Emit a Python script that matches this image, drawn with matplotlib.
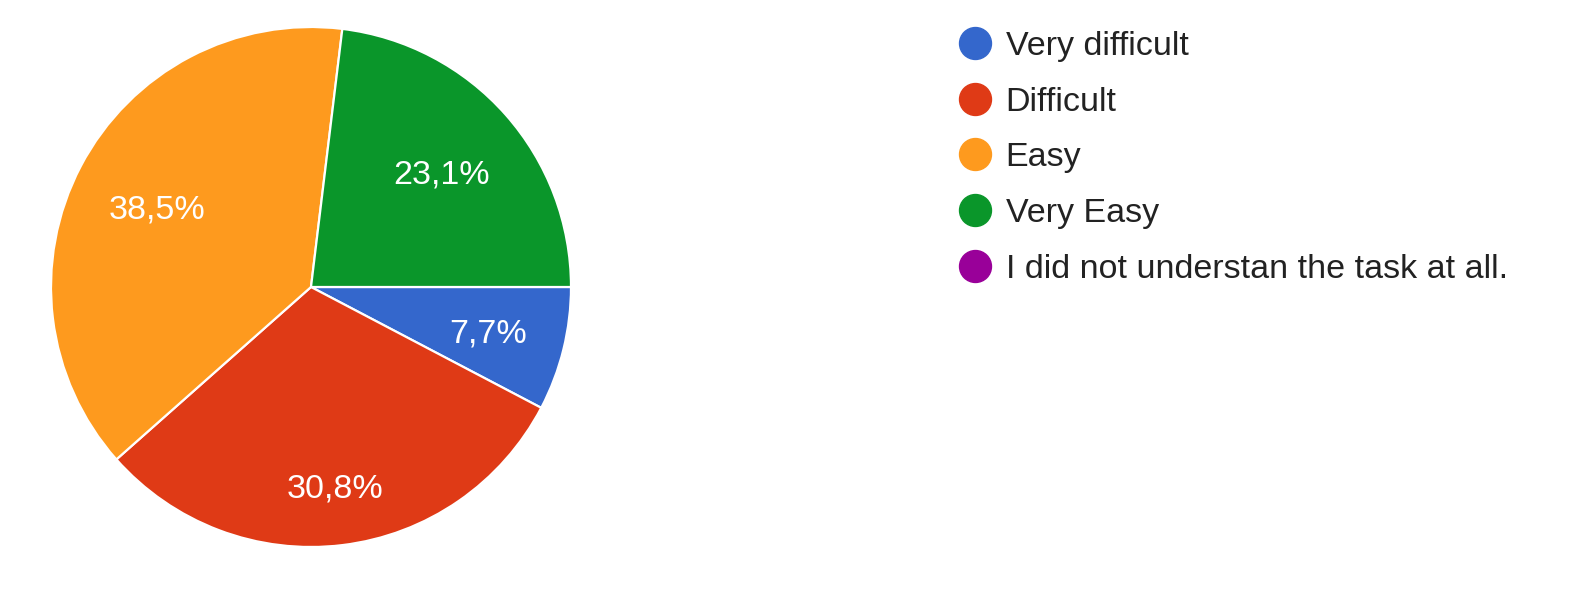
import numpy as np
import matplotlib
matplotlib.use("Agg")
import matplotlib.pyplot as plt
from matplotlib.lines import Line2D

plt.rcParams["font.family"] = ["Liberation Sans", "DejaVu Sans"]

#Survey answers, share in percent
labels = ["Very difficult", "Difficult", "Easy", "Very Easy",
          "I did not understan the task at all."]
shares = [7.7, 30.8, 38.5, 23.1, 0.0]
colors = ["#3467cc", "#df3a16", "#fe9a1e", "#0a962a", "#990099"]
#Radial place of each percent label, fraction of the radius
label_r = [0.70, 0.77, 0.67, 0.67, 0.67]

W, H = 1574, 590
fig = plt.figure(figsize=(W / 100, H / 100), dpi=100)
cx, cy, rad = 311, 287, 260
ax = fig.add_axes([(cx - rad) / W, (H - cy - rad) / H, 2 * rad / W, 2 * rad / H])

vals = [s for s in shares if s > 0]
cols = [c for c, s in zip(colors, shares) if s > 0]
wedges, _ = ax.pie(vals, colors=cols, startangle=0, counterclock=False,
                   wedgeprops=dict(edgecolor="white", linewidth=1.6))
ax.set_xlim(-1, 1)
ax.set_ylim(-1, 1)
ax.set_aspect("equal")

for w, s, r in zip(wedges, vals, label_r):
    th = np.deg2rad((w.theta1 + w.theta2) / 2)
    ax.text(r * np.cos(th), r * np.sin(th), f"{s:.1f}%".replace(".", ","),
            ha="center", va="center_baseline", color="white", fontsize=24.5)

handles = [Line2D([], [], marker="o", ls="", ms=23, color=c, mec=c)
           for c in colors]
fig.legend(handles, labels, loc="upper left", bbox_to_anchor=(958 / W, 1 - 31 / H),
           frameon=False, fontsize=24.5, handletextpad=0.4, labelspacing=0.725,
           handlelength=1.0, borderpad=0, borderaxespad=0, labelcolor="#222222")

fig.savefig("out.png", dpi=100)
